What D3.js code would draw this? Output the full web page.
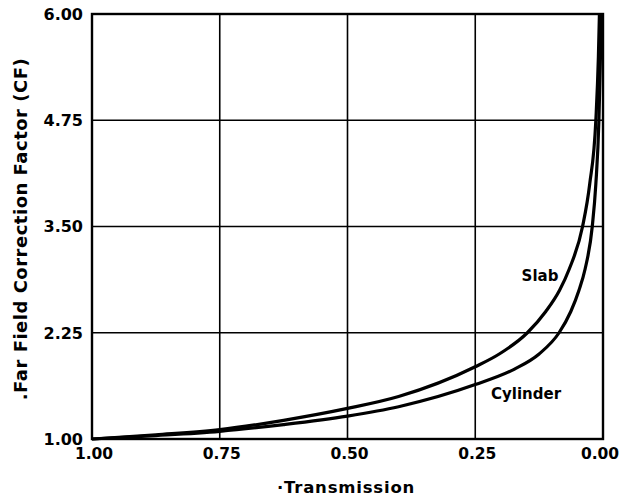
<!DOCTYPE html>
<head>
<meta charset="utf-8">
<script src="https://d3js.org/d3.v7.min.js"></script>
<style>
  body { margin: 0; background: #fff; }
  text { font-family: "DejaVu Sans", sans-serif; font-weight: bold; fill: #000; }
</style>
</head>
<body>
<svg width="623" height="496"></svg>
<script>

// values
let xTicks = [1.00, 0.75, 0.50, 0.25, 0.00];
let yTicks = [1.00, 2.25, 3.50, 4.75, 6.00];

let slabT  = [1.00, 0.875, 0.75, 0.625, 0.50, 0.40, 0.25, 0.203, 0.148, 0.112, 0.085, 0.066, 0.040, 0.026, 0.014, 0.009, 0.007];
let slabCF = [1.00, 1.05, 1.11, 1.22, 1.36, 1.50, 1.85, 2.00, 2.25, 2.50, 2.75, 3.00, 3.50, 4.00, 4.75, 5.50, 6.00];

let cylT  = [1.00, 0.875, 0.75, 0.625, 0.50, 0.40, 0.25, 0.174, 0.125, 0.086, 0.063, 0.047, 0.035, 0.021, 0.014, 0.008, 0.005, 0.003];
let cylCF = [1.00, 1.04, 1.09, 1.17, 1.27, 1.38, 1.64, 1.82, 2.00, 2.25, 2.50, 2.75, 3.00, 3.50, 4.00, 4.75, 5.50, 6.00];

let svg = d3.select("svg");
let plotL = 92, plotR = 603, plotT = 14, plotB = 439;

let x = d3.scaleLinear().domain([1, 0]).range([plotL, plotR]);
let y = d3.scaleLinear().domain([1, 6]).range([plotB, plotT]);

let g = svg.append("g");

// grid
g.selectAll(".vgrid")
  .data(xTicks)
  .enter().append("line")
    .attr("x1", x).attr("x2", x)
    .attr("y1", plotT).attr("y2", plotB)
    .attr("stroke", "#000")
    .attr("stroke-width", 1.6);

g.selectAll(".hgrid")
  .data(yTicks)
  .enter().append("line")
    .attr("y1", y).attr("y2", y)
    .attr("x1", plotL).attr("x2", plotR)
    .attr("stroke", "#000")
    .attr("stroke-width", 1.6);

// frame
g.append("rect")
  .attr("x", plotL).attr("y", plotT)
  .attr("width", plotR - plotL).attr("height", plotB - plotT)
  .attr("fill", "none")
  .attr("stroke", "#000")
  .attr("stroke-width", 2.4);

// tick labels
g.selectAll(".ylab")
  .data(yTicks)
  .enter().append("text")
    .attr("x", plotL - 9)
    .attr("y", y)
    .attr("dy", "0.36em")
    .attr("text-anchor", "end")
    .attr("font-size", 16)
    .text(d3.format(".2f"));

g.selectAll(".xlab")
  .data(xTicks)
  .enter().append("text")
    .attr("x", function(d) { return Math.min(x(d) + 2, 600); })
    .attr("y", plotB + 20)
    .attr("text-anchor", "middle")
    .attr("font-size", 15.5)
    .text(d3.format(".2f"));

// curves
let line = d3.line()
  .x(function(d) { return x(d[0]); })
  .y(function(d) { return y(d[1]); })
  .curve(d3.curveMonotoneX);

[[slabT, slabCF], [cylT, cylCF]].forEach(function(s) {
  g.append("path")
    .datum(d3.zip(s[0], s[1]))
    .attr("d", line)
    .attr("fill", "none")
    .attr("stroke", "#000")
    .attr("stroke-width", 3.2);
});

// curve labels
g.append("text")
  .attr("x", 540).attr("y", 281)
  .attr("text-anchor", "middle")
  .attr("font-size", 15)
  .text("Slab");

g.append("text")
  .attr("x", 526).attr("y", 399)
  .attr("text-anchor", "middle")
  .attr("font-size", 15)
  .text("Cylinder");

// axis titles
svg.append("text")
  .attr("x", 346).attr("y", 493)
  .attr("text-anchor", "middle")
  .attr("font-size", 16.5)
  .attr("letter-spacing", 0.8)
  .text("\u00b7Transmission");

svg.append("text")
  .attr("transform", "translate(27,229)rotate(-90)")
  .attr("text-anchor", "middle")
  .attr("font-size", 18)
  .attr("letter-spacing", 0.5)
  .text(".Far Field Correction Factor  (CF)");

</script>
</body>
